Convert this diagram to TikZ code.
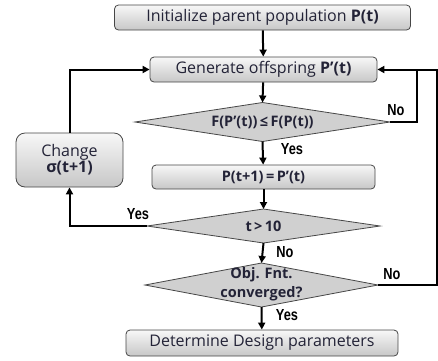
\documentclass[tikz,border=0pt]{standalone}
\usepackage{fontspec}
\setmainfont{Open Sans}
\newfontfamily\narrowfont[FakeStretch=0.8]{Liberation Sans}
\usetikzlibrary{arrows.meta}
\definecolor{txt}{RGB}{35,35,55}
\definecolor{bord}{RGB}{70,70,70}
\definecolor{dfill}{RGB}{208,208,208}
\tikzset{
  box/.style={draw=bord,line width=0.8pt,rounded corners=4pt,top color=white!97!black,bottom color=black!22,
    text=txt,font=\fontsize{16}{17}\selectfont,inner sep=0pt},
  decshape/.style={draw=bord,line width=0.8pt,fill=dfill},
  dectext/.style={text=txt,inner sep=0pt,align=center,font=\bfseries\fontsize{14.5}{19}\selectfont},
  flow/.style={line width=2pt,-{Triangle[length=7pt,width=7pt]}},
  line/.style={line width=2pt},
  lab/.style={font=\narrowfont\bfseries\fontsize{16}{16}\selectfont,text=black,inner sep=0pt}
}
\begin{document}
\begin{tikzpicture}[x=1pt,y=-1pt]
\useasboundingbox (0,0) rectangle (438,360);
\node[box,minimum width=296,minimum height=25] (init) at (262.5,17.5) {Initialize parent population \textbf{P(t)}};
\node[box,minimum width=227,minimum height=25] (gen) at (263.5,69.5) {Generate offspring \textbf{P’(t)}};
% diamond 1
\coordinate (d1t) at (262.5,102.5); \coordinate (d1b) at (262.5,141.5);
\coordinate (d1l) at (135,122); \coordinate (d1r) at (390,122);
\path[decshape] (d1t) -- (d1r) -- (d1b) -- (d1l) -- cycle;
\node[dectext] (d1) at (262.5,122.5) {F(P’(t))\,≤\,F(P(t))};
\node[box,minimum width=223,minimum height=24,font=\bfseries\fontsize{14.5}{16}\selectfont] (upd) at (263.5,177) {P(t+1)\,=\,P’(t)};
% diamond 2
\coordinate (d2t) at (263.5,209); \coordinate (d2b) at (263.5,243);
\coordinate (d2l) at (147,226); \coordinate (d2r) at (380,226);
\path[decshape] (d2t) -- (d2r) -- (d2b) -- (d2l) -- cycle;
\node[dectext] (d2) at (263.5,226) {t\,>\,10};
% diamond 3
\coordinate (d3t) at (261.5,263); \coordinate (d3b) at (261.5,307);
\coordinate (d3l) at (145,285); \coordinate (d3r) at (378,285);
\path[decshape] (d3t) -- (d3r) -- (d3b) -- (d3l) -- cycle;
\node[dectext] (d3) at (261.5,284) {Obj. Fnt.\\converged?};
\node[box,minimum width=272,minimum height=26] (det) at (262,343) {Determine Design parameters};
\node[box,rounded corners=9pt,minimum width=107,minimum height=54,align=center] (chg) at (69.5,160) {Change\\[-1pt]\textbf{σ(t+1)}};
\coordinate (r1) at (417,122);
\coordinate (r2) at (436.5,285);
\coordinate (r3) at (436.5,69.5);

\draw[flow] (init) -- (gen);
\draw[flow] (gen) -- (d1t);
\draw[flow] (d1b) -- (upd);
\draw[flow] (upd) -- (d2t);
\draw[flow] (d2b) -- (d3t);
\draw[flow] (d3b) -- (det);
\draw[line] (d1r) -- (r1) -- (r1 |- gen.east);
\draw[flow] (d3r) -- (r2) -- (r3) -- (gen.east);
\draw[flow] (d2l) -| (chg.south);
\draw[flow] (chg.north) |- (gen.west);

\node[lab] (y1) at (292,149) {Yes};
\node[lab] (n1) at (396,110) {No};
\node[lab] (y2) at (138,214) {Yes};
\node[lab] (n2) at (285,252) {No};
\node[lab] (n3) at (392,274) {No};
\node[lab] (y3) at (287,315) {Yes};
\end{tikzpicture}
\end{document}
